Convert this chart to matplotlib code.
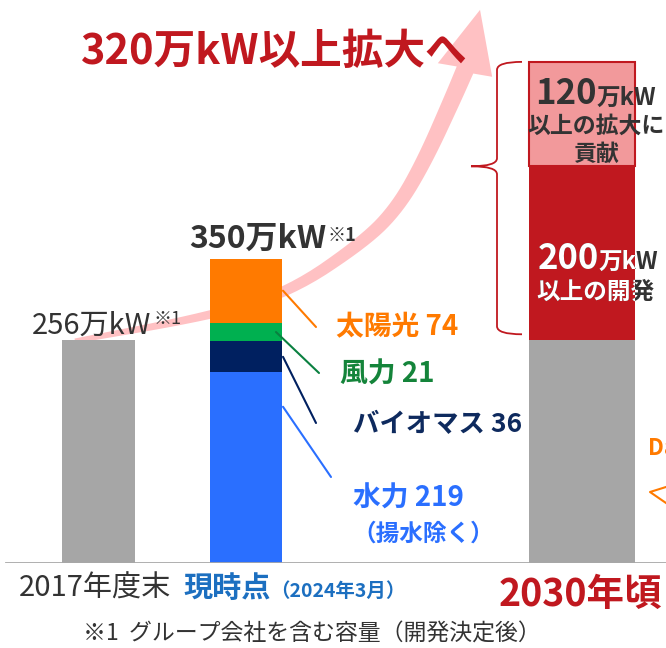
import numpy as np
import matplotlib.pyplot as plt
from matplotlib.path import Path
from matplotlib.patches import PathPatch, Polygon, ConnectionPatch

plt.rcParams['font.family'] = ['Noto Sans CJK JP', 'DejaVu Sans']

# capacity data (万kW)
value_2017 = 256
now_labels = ['水力 219', 'バイオマス 36', '風力 21', '太陽光 74']
now_values = [219, 36, 21, 74]
plan_values = [256, 200, 120]   # 既存 / 開発 / 拡大に貢献
cat_labels = ['2017年度末', '現時点', '2030年頃']

GRAY = '#A6A6A6'
DARK = '#333333'
RED = '#C0181F'
PINK = '#F2999B'
now_colors = ['#2A6FFF', '#002060', '#00B050', '#FF7A00']
label_colors = ['#2A6FFF', '#0E2A5E', '#14843A', '#FF7A00']

K = 0.87  # pixels per 万kW

fig = plt.figure(figsize=(6.66, 6.48), dpi=100)
ax = fig.add_axes([0, 85 / 648, 1, 563 / 648])
ax.set_xlim(0, 666)
ax.set_ylim(0, 563 / K)
ax.axis('off')

# overlay in pixel coordinates for free text / decoration
ov = fig.add_axes([0, 0, 1, 1], zorder=5)
ov.set_xlim(0, 666)
ov.set_ylim(648, 0)
ov.axis('off')

x_pos = [98.5, 246, 582]
widths = [73, 72, 106]

# --- big pink arrow (decoration, behind bars)
centers = np.array([(75, 341), (210, 316), (290, 292), (365, 241),
                    (398, 207), (425, 160), (453, 98), (465, 70)], float)
pts = centers
for _ in range(3):
    new = [pts[0]]
    for p, q in zip(pts[:-1], pts[1:]):
        new.append(0.75 * p + 0.25 * q)
        new.append(0.25 * p + 0.75 * q)
    new.append(pts[-1])
    pts = np.array(new)
seg = np.r_[0, np.cumsum(np.hypot(*np.diff(pts, axis=0).T))]
w = 5 + 13 * seg / seg[-1]
tan = np.gradient(pts, axis=0)
tan /= np.hypot(tan[:, 0], tan[:, 1])[:, None]
nrm = np.c_[-tan[:, 1], tan[:, 0]]
left = pts + nrm * w[:, None] / 2
right = pts - nrm * w[:, None] / 2
d = np.array([15, -60.0])
d /= np.hypot(*d)
n = np.array([-d[1], d[0]])
base = pts[-1]
head = [base + n * 28, base + d * 62, base - n * 28]
outline = np.vstack([left, head, right[::-1]])
ax.add_patch(Polygon(outline, closed=True, facecolor='#FFC1C3', edgecolor='none',
                     transform=ov.transData, zorder=1, clip_on=False))

# --- bars
ax.bar(x_pos[0], value_2017, width=widths[0], color=GRAY, zorder=2)

bottoms = np.r_[0, np.cumsum(now_values)[:-1]]
ax.bar([x_pos[1]] * len(now_values), now_values, width=widths[1], bottom=bottoms,
       color=now_colors, zorder=2)

plan_bottoms = np.r_[0, np.cumsum(plan_values)[:-1]]
ax.bar(x_pos[2], plan_values[0], width=widths[2], color=GRAY, zorder=2)
red_bar = ax.bar(x_pos[2], plan_values[1], width=widths[2], bottom=plan_bottoms[1],
                 color=RED, zorder=2)[0]
ax.bar(x_pos[2], plan_values[2], width=widths[2], bottom=plan_bottoms[2],
       color=PINK, edgecolor=RED, linewidth=1.5, zorder=2)

ax.axhline(0, xmin=6 / 666, xmax=1, color='#A8A8A8', lw=2, zorder=3)

# --- bar top labels
ax.annotate('256万kW', (151, value_2017), xytext=(0, 4.5), textcoords='offset points',
            ha='right', va='baseline', fontsize=21, color=DARK, zorder=4)
ax.annotate('※1', (153, value_2017), xytext=(0, 11.5), textcoords='offset points',
            ha='left', va='baseline', fontsize=13, color=DARK, zorder=4)
total_now = sum(now_values)
ax.annotate('350万kW', (326, total_now), xytext=(0, 8), textcoords='offset points',
            ha='right', va='baseline', fontsize=23, fontweight='bold', color=DARK, zorder=4)
ax.annotate('※1', (328, total_now), xytext=(0, 13), textcoords='offset points',
            ha='left', va='baseline', fontsize=13, fontweight='bold', color=DARK, zorder=4)

# --- segment labels with leader lines
label_pos = [(353, 507, 20), (353, 432, 19), (340, 383, 20), (336, 335, 20)]
line_end = [(331, 477), (316, 423), (319, 373), (316, 327)]
line_start_x = [283, 283, 276, 283]
anchor = [0.82, 0.5, 0.5, 0.5]
for i, (lab, v, b) in enumerate(zip(now_labels, now_values, bottoms)):
    lx, ly, fs = label_pos[i]
    ov.text(lx, ly, lab, ha='left', va='baseline', fontsize=fs, fontweight='bold',
            color=label_colors[i])
    con = ConnectionPatch(xyA=(line_start_x[i], b + anchor[i] * v), coordsA=ax.transData,
                          xyB=line_end[i], coordsB=ov.transData,
                          color=now_colors[i] if i != 2 else '#0A8040', lw=1.5, zorder=4)
    fig.add_artist(con)
ov.text(352, 541, '（揚水除く）', ha='left', va='baseline', fontsize=17,
        fontweight='bold', color=label_colors[0])

# --- texts in 2030 bar
red_mid = plan_bottoms[1] + plan_values[1] / 2
for col, clip in [(DARK, None), ('white', red_bar)]:
    items = [
        ax.annotate('200', (599, red_mid), xytext=(0, -11.5), textcoords='offset points',
                    ha='right', va='baseline', fontsize=25, fontweight='bold', color=col),
        ax.annotate('万kW', (599, red_mid), xytext=(0, -11.5), textcoords='offset points',
                    ha='left', va='baseline', fontsize=17, fontweight='bold', color=col),
        ax.annotate('以上の開発', (595.5, red_mid), xytext=(0, -27.4), textcoords='offset points',
                    ha='center', va='center', fontsize=17, fontweight='bold', color=col),
    ]
    for t in items:
        t.set_zorder(4)
        if clip is not None:
            t.set_clip_path(clip)

pink_mid = plan_bottoms[2] + plan_values[2] / 2
ax.annotate('120', (597, pink_mid), xytext=(0, 7), textcoords='offset points',
            ha='right', va='baseline', fontsize=25, fontweight='bold', color=DARK, zorder=4)
ax.annotate('万kW', (597, pink_mid), xytext=(0, 7), textcoords='offset points',
            ha='left', va='baseline', fontsize=17, fontweight='bold', color=DARK, zorder=4)
ax.annotate('以上の拡大に', (596, pink_mid), xytext=(0, -8.6), textcoords='offset points',
            ha='center', va='center', fontsize=16.5, fontweight='bold', color=DARK, zorder=4)
ax.annotate('貢献', (596, pink_mid), xytext=(0, -28.8), textcoords='offset points',
            ha='center', va='center', fontsize=16.5, fontweight='bold', color=DARK, zorder=4)

# --- brace
top = sum(plan_values)
mid = plan_bottoms[2]
bot = plan_values[0] + 6 / K
r = 8 / K
verts = [(522, top), (497, top), (497, top - r), (497, mid + r),
         (497, mid), (471, mid), (497, mid), (497, mid - r),
         (497, bot + r), (497, bot), (522, bot)]
codes = [Path.MOVETO, Path.CURVE3, Path.CURVE3, Path.LINETO,
         Path.CURVE3, Path.CURVE3, Path.CURVE3, Path.CURVE3,
         Path.LINETO, Path.CURVE3, Path.CURVE3]
ax.add_patch(PathPatch(Path(verts, codes), facecolor='none', edgecolor=RED, lw=1.3,
                       zorder=3, clip_on=False))

# --- headline and category labels
ov.text(81, 64, '320万kW以上拡大へ', ha='left', va='baseline', fontsize=30,
        fontweight='bold', color=RED)
ov.text(19, 597, cat_labels[0], ha='left', va='baseline', fontsize=21, color=DARK)
ov.text(183, 597, cat_labels[1], ha='left', va='baseline', fontsize=21,
        fontweight='bold', color='#1C6FC0')
ov.text(270, 597, '（2024年3月）', ha='left', va='baseline', fontsize=14,
        fontweight='bold', color='#1C6FC0')
ov.text(499, 606, cat_labels[2], ha='left', va='baseline', fontsize=27,
        fontweight='bold', color=RED)
ov.text(312, 641, '※1  グループ会社を含む容量（開発決定後）', ha='center', va='baseline',
        fontsize=16.5, color=DARK)

# cut-off callout on the right edge (cut off in the source as well)
ov.text(648, 455, 'Da', ha='left', va='baseline', fontsize=16, fontweight='bold',
        color='#FF7A00')
ov.plot([666, 650, 666], [487, 492, 503], color='#FF7A00', lw=1.5)

fig.savefig('out.png', dpi=100)
